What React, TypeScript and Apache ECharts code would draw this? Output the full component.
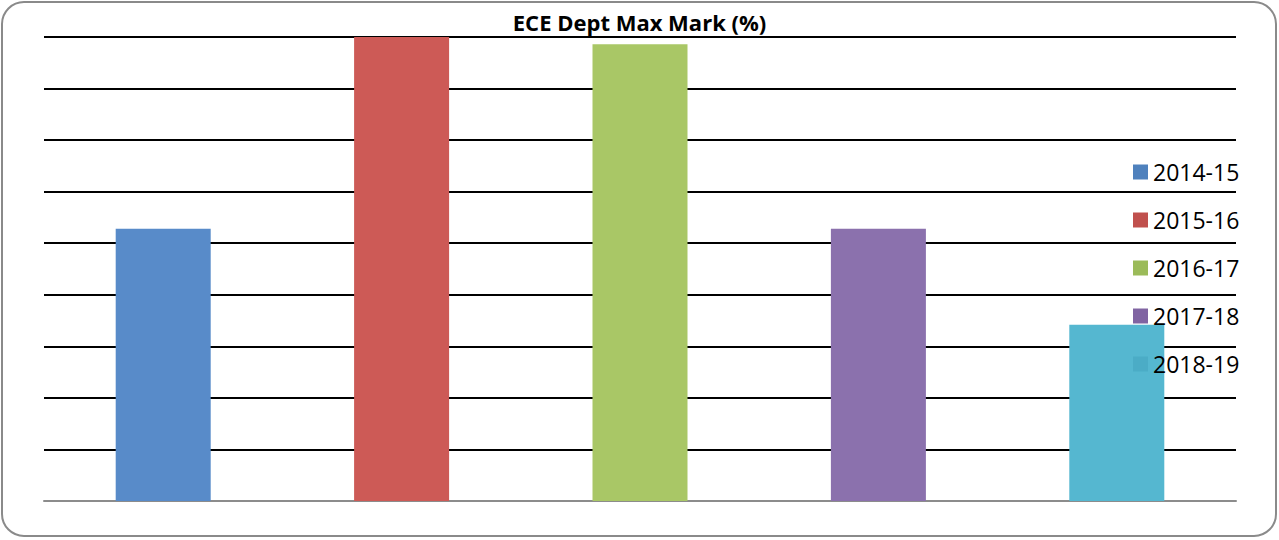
import React, { useEffect, useRef } from "react";
import * as echarts from "echarts";

const categories = ["2014-15", "2015-16", "2016-17", "2017-18", "2018-19"];
const seriesNames = ["2014-15", "2015-16", "2016-17", "2017-18", "2018-19"];
const values = [52.8, 90, 88.6, 52.8, 34.2];
const barColors = ["#588bc9", "#cd5a56", "#a9c766", "#8b71ad", "#55b7d0"];
const legendColors = ["#4f81bd", "#c0504d", "#9bbb59", "#8064a2", "#4bacc6"];
const yTicks = { min: 0, max: 90, interval: 10 };

export default function App() {
  const ref = useRef<HTMLDivElement>(null);
  useEffect(() => {
    if (!ref.current) return;
    const chart = echarts.init(ref.current, null, { renderer: "svg" });
    const series = seriesNames.map((name, i) => ({
      name,
      type: "bar",
      stack: "all",
      barWidth: 95,
      data: categories.map((_, j) => (j === i ? values[i] : "-")),
      itemStyle: { color: barColors[i] },
    }));
    chart.setOption({
      animation: false,
      title: {
        text: "ECE Dept Max Mark (%)",
        left: "center",
        top: 6,
        textStyle: {
          fontFamily: "Open Sans",
          fontWeight: "bold",
          fontSize: 22,
          color: "#000",
        },
      },
      graphic: [
        {
          type: "rect",
          shape: { x: 2, y: 2, width: 1274, height: 534, r: 22 },
          style: { fill: "none", stroke: "#8a8a8a", lineWidth: 2 },
          silent: true,
          z: -1,
        },
      ],
      legend: {
        orient: "vertical",
        left: 1128,
        top: 154,
        itemWidth: 15,
        itemHeight: 15,
        itemGap: 22,
        icon: "rect",
        data: seriesNames.map((n, i) => ({ name: n, itemStyle: { color: legendColors[i] } })),
        textStyle: { fontFamily: "Open Sans", fontSize: 23, color: "#000", lineHeight: 26 },
      },
      grid: { left: 44, right: 43, top: 37, bottom: 39 },
      xAxis: {
        type: "category",
        data: categories,
        axisLine: { lineStyle: { color: "#8c8c8c", width: 2 } },
        axisTick: { show: false },
        axisLabel: { show: false },
      },
      yAxis: {
        type: "value",
        min: yTicks.min,
        max: yTicks.max,
        interval: yTicks.interval,
        axisLine: { show: false },
        axisTick: { show: false },
        axisLabel: { show: false },
        splitLine: { lineStyle: { color: "#000", width: 2 } },
      },
      series,
    });
    return () => chart.dispose();
  }, []);
  return (
    <div
      ref={ref}
      style={{ position: "fixed", left: 0, top: 0, width: 1279, height: 540, background: "#fff" }}
    />
  );
}
